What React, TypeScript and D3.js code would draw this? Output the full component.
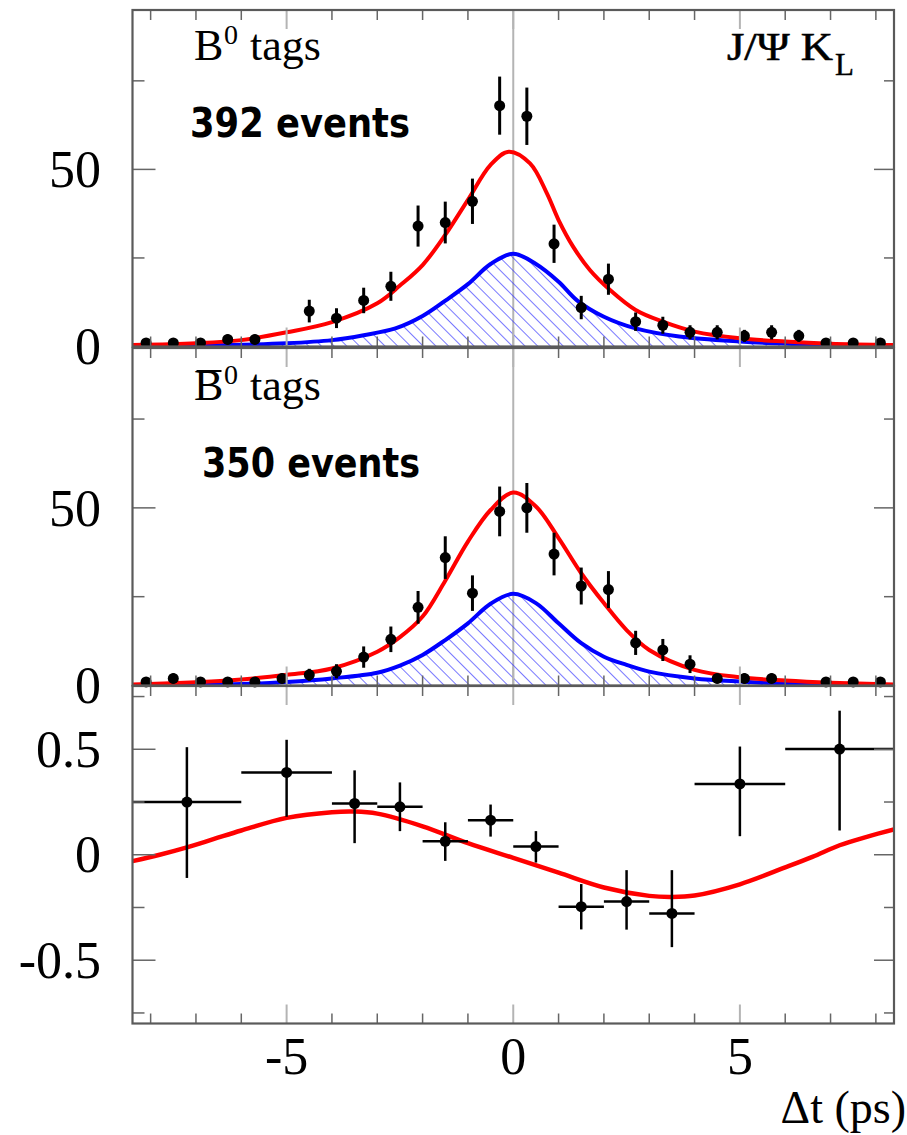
import React from 'react';
import * as d3 from 'd3';

// ---------- data ----------
const BIN_CENTERS = [-8.1, -7.5, -6.9, -6.3, -5.7, -5.1, -4.5, -3.9, -3.3, -2.7, -2.1, -1.5, -0.9, -0.3, 0.3, 0.9, 1.5, 2.1, 2.7, 3.3, 3.9, 4.5, 5.1, 5.7, 6.3, 6.9, 7.5, 8.1];

const B0_COUNTS = [1, 1, 1, 2, 2, 0, 10, 8, 13, 17, 34, 35, 41, 68, 65, 29, 11, 19, 7, 6, 4, 4, 3, 4, 3, 1, 1, 1];
const B0_ERRORS = [1, 1, 1, 1.4, 1.4, 0, 3.2, 2.8, 3.6, 4.1, 5.8, 5.9, 6.4, 8.2, 8.1, 5.4, 3.3, 4.4, 2.6, 2.4, 2, 2, 1.7, 2, 1.7, 1, 1, 1];

const B0BAR_COUNTS = [1, 2, 1, 1, 1, 2, 3, 4, 8, 13, 22, 36, 26, 49, 50, 37, 28, 27, 12, 10, 6, 2, 2, 2, 0, 1, 1, 1];
const B0BAR_ERRORS = [1, 1.4, 1, 1, 1, 1.4, 1.7, 2, 3, 3.6, 4.6, 6, 5, 7, 7, 6, 5.2, 5.2, 3.4, 3.1, 2.5, 1.4, 1.4, 1.4, 0, 1, 1, 1];

// fit curves (x in ps, y in events)
const B0_TOTAL_X = [-8.4, -7, -6, -5, -4, -3, -2.5, -2, -1.5, -1, -0.5, -0.1, 0.37, 0.74, 1.0, 1.32, 1.69, 2.13, 2.7, 3.3, 4, 5, 6, 7, 8.4];
const B0_TOTAL_Y = [0.4, 0.9, 1.8, 4.0, 6.9, 12.2, 17.2, 23.0, 31.5, 41.4, 51.3, 55, 51.7, 43.3, 35.7, 28.2, 21.6, 16, 10.3, 7, 4.2, 2.3, 1.4, 0.8, 0.4];

const B0_SIGNAL_X = [-8.4, -6.25, -5, -4, -3.3, -2.6, -2, -1.48, -1, -0.5, 0, 0.5, 1.0, 1.42, 2.0, 2.7, 3.66, 5, 6.4, 8.4];
const B0_SIGNAL_Y = [0.1, 0.4, 0.9, 1.8, 3.2, 5.1, 8.6, 13.1, 17.6, 23.3, 26.2, 23.3, 18.3, 12.9, 8.4, 5.1, 2.8, 1.4, 0.6, 0.1];

const B0BAR_TOTAL_X = [-8.4, -6.3, -5, -4, -3, -2.5, -2, -1.5, -1, -0.5, 0, 0.5, 1, 1.5, 2, 2.5, 3, 4, 5, 6, 7, 8.4];
const B0BAR_TOTAL_Y = [0.3, 1.4, 3, 4.8, 9.5, 13.6, 19.4, 29.5, 40.5, 49.4, 54.3, 50.4, 41.5, 31.6, 23.2, 15.6, 10, 4.4, 2.3, 1.4, 0.8, 0.3];

const B0BAR_SIGNAL_X = [-8.4, -6, -5, -4, -3, -2.5, -2, -1.5, -1, -0.5, 0, 0.5, 1, 1.5, 2, 2.5, 3, 4, 5, 6, 8.4];
const B0BAR_SIGNAL_Y = [0.1, 0.4, 1, 2, 3.6, 5.6, 8.6, 12.8, 17.5, 23, 25.8, 23.2, 17.5, 11.9, 8.1, 5.8, 3.9, 2, 1.1, 0.5, 0.1];

// asymmetry panel
const ASYM_X = [-7.2, -5, -3.5, -2.5, -1.5, -0.5, 0.5, 1.5, 2.5, 3.5, 5, 7.2];
const ASYM_XLO = [-8.4, -6, -4, -3, -2, -1, 0, 1, 2, 3, 4, 6];
const ASYM_XHI = [-6, -4, -3, -2, -1, 0, 1, 2, 3, 4, 6, 8.4];
const ASYM_Y = [0.25, 0.39, 0.243, 0.227, 0.064, 0.164, 0.039, -0.246, -0.222, -0.278, 0.336, 0.501];
const ASYM_EUP = [0.26, 0.155, 0.157, 0.116, 0.09, 0.074, 0.073, 0.107, 0.149, 0.205, 0.177, 0.182];
const ASYM_EDN = [0.36, 0.21, 0.188, 0.115, 0.093, 0.078, 0.076, 0.108, 0.133, 0.16, 0.248, 0.386];

const ASYM_FIT_X = [-8.4, -7.8, -7.2, -6.6, -6, -5, -4, -3.5, -3, -2, -1, 0, 1, 2, 3, 3.5, 4, 5, 6, 6.6, 7.2, 7.8, 8.4];
const ASYM_FIT_Y = [-0.03, 0.0, 0.035, 0.075, 0.115, 0.175, 0.202, 0.205, 0.195, 0.135, 0.055, -0.015, -0.085, -0.155, -0.195, -0.2, -0.193, -0.14, -0.06, -0.01, 0.045, 0.085, 0.12];

const X_TICK_LABELS = [-5, 0, 5];
const COUNT_TICK_LABELS = [0, 50];
const ASYM_TICK_LABELS = [-0.5, 0, 0.5];

// ---------- layout ----------
const W = 907;
const H = 1135;
const X0 = 132.5;
const X1 = 894;
const x = d3.scaleLinear().domain([-8.4, 8.4]).range([X0, X1]);
const yTop = d3.scaleLinear().domain([0, 95]).range([346.5, 10]);
const yMid = d3.scaleLinear().domain([0, 95]).range([685.5, 348]);
const yBot = d3.scaleLinear().domain([-0.8, 0.8]).range([1023.5, 686]);

const SERIF = "'Liberation Serif', 'Times New Roman', serif";
const FRAME = '#5a5a5a';
const TICK = '#666';
const LIGHT = '#b4b4b4';
const RED = '#ff0000';
const BLUE = '#0000ff';

const intTicks = d3.range(-8, 9);
const smooth = d3.curveCatmullRom.alpha(0.5);

function xy(xs: number[], ys: number[]) {
  return xs.map((v, i) => [v, ys[i]] as [number, number]);
}

function Frame({ y, ticks, minor, id }: { y: d3.ScaleLinear<number, number>; ticks: number[]; minor: number[]; id: string }) {
  const [yb, yt] = y.range();
  return (
    <g>
      {intTicks.map((t) => {
        const major = t % 5 === 0;
        const len = major ? 19 : 10;
        return (
          <g key={id + 'xt' + t} stroke={major ? LIGHT : TICK} strokeWidth={major ? 2 : 1.5}>
            <line x1={x(t)} x2={x(t)} y1={yt} y2={yt + len} />
            <line x1={x(t)} x2={x(t)} y1={yb} y2={yb - len} />
          </g>
        );
      })}
      {ticks.map((t) => (
        <g key={id + 'yM' + t} stroke={TICK} strokeWidth={1.5}>
          <line x1={X0} x2={X0 + 23} y1={y(t)} y2={y(t)} />
          <line x1={X1} x2={X1 - 20} y1={y(t)} y2={y(t)} />
        </g>
      ))}
      {minor.map((t) => (
        <g key={id + 'ym' + t} stroke={TICK} strokeWidth={1.5}>
          <line x1={X0} x2={X0 + 12} y1={y(t)} y2={y(t)} />
          <line x1={X1} x2={X1 - 10} y1={y(t)} y2={y(t)} />
        </g>
      ))}
      <rect x={X0} y={yt} width={X1 - X0} height={yb - yt} fill="none" stroke={FRAME} strokeWidth={2.2} />
    </g>
  );
}

function CountPanel({
  y, counts, errors, totX, totY, sigX, sigY, id,
}: {
  y: d3.ScaleLinear<number, number>; counts: number[]; errors: number[];
  totX: number[]; totY: number[]; sigX: number[]; sigY: number[]; id: string;
}) {
  const [yb, yt] = y.range();
  const line = d3.line<[number, number]>().x((d) => x(d[0])).y((d) => y(d[1])).curve(smooth);
  const area = d3.area<[number, number]>().x((d) => x(d[0])).y0(y(0)).y1((d) => y(d[1])).curve(smooth);
  const sig = xy(sigX, sigY);
  const tot = xy(totX, totY);
  return (
    <g>
      <defs>
        <clipPath id={'clip' + id}>
          <rect x={X0} y={yt} width={X1 - X0} height={yb - yt} />
        </clipPath>
      </defs>
      <line x1={x(0)} x2={x(0)} y1={yt} y2={yb} stroke={LIGHT} strokeWidth={2} />
      <g clipPath={`url(#clip${id})`}>
        <path d={area(sig) || ''} fill="url(#hatch)" stroke="none" />
        <path d={line(sig) || ''} fill="none" stroke={BLUE} strokeWidth={4} />
        <path d={line(tot) || ''} fill="none" stroke={RED} strokeWidth={4} />
      </g>
      {BIN_CENTERS.map((c, i) =>
        counts[i] > 0 ? (
          <g key={id + 'p' + i}>
            <line x1={x(c)} x2={x(c)} y1={y(counts[i] + errors[i])} y2={y(Math.max(0, counts[i] - errors[i]))} stroke="#000" strokeWidth={3} />
            <circle cx={x(c)} cy={y(counts[i])} r={5.5} fill="#000" />
          </g>
        ) : null,
      )}
      <Frame y={y} ticks={[50]} minor={[25, 75]} id={id} />
      {COUNT_TICK_LABELS.map((t) => (
        <text key={id + 'l' + t} x={101} y={y(t)} dy="0.34em" textAnchor="end" fontFamily={SERIF} fontSize={52} fill="#000">
          {t}
        </text>
      ))}
    </g>
  );
}

export default function App() {
  const fit = d3.line<[number, number]>().x((d) => x(d[0])).y((d) => yBot(d[1])).curve(smooth);
  const [bb, bt] = yBot.range();
  return (
    <svg width={W} height={H} viewBox={`0 0 ${W} ${H}`} style={{ position: 'absolute', left: 0, top: 0, background: '#fff' }}>
      <defs>
        <pattern id="hatch" patternUnits="userSpaceOnUse" width={9} height={9} patternTransform="rotate(-45)">
          <line x1={0} y1={-1} x2={0} y2={10} stroke="#2f2fff" strokeWidth={1.3} />
        </pattern>
        <clipPath id="clipBot">
          <rect x={X0} y={bt} width={X1 - X0} height={bb - bt} />
        </clipPath>
      </defs>
      <rect x={0} y={0} width={W} height={H} fill="#fff" />

      <CountPanel y={yTop} counts={B0_COUNTS} errors={B0_ERRORS} totX={B0_TOTAL_X} totY={B0_TOTAL_Y} sigX={B0_SIGNAL_X} sigY={B0_SIGNAL_Y} id="top" />
      <CountPanel y={yMid} counts={B0BAR_COUNTS} errors={B0BAR_ERRORS} totX={B0BAR_TOTAL_X} totY={B0BAR_TOTAL_Y} sigX={B0BAR_SIGNAL_X} sigY={B0BAR_SIGNAL_Y} id="mid" />

      {/* asymmetry panel */}
      <g>
        <g clipPath="url(#clipBot)">
          <path d={fit(xy(ASYM_FIT_X, ASYM_FIT_Y)) || ''} fill="none" stroke={RED} strokeWidth={4.5} />
        </g>
        {ASYM_X.map((c, i) => (
          <g key={'a' + i} stroke="#000" strokeWidth={2.5}>
            <line x1={x(ASYM_XLO[i])} x2={x(ASYM_XHI[i])} y1={yBot(ASYM_Y[i])} y2={yBot(ASYM_Y[i])} />
            <line x1={x(c)} x2={x(c)} y1={yBot(ASYM_Y[i] + ASYM_EUP[i])} y2={yBot(ASYM_Y[i] - ASYM_EDN[i])} />
            <circle cx={x(c)} cy={yBot(ASYM_Y[i])} r={5.5} fill="#000" stroke="none" />
          </g>
        ))}
        <Frame y={yBot} ticks={[-0.5, 0, 0.5]} minor={[-0.75, -0.25, 0.25, 0.75]} id="bot" />
        {ASYM_TICK_LABELS.map((t) => (
          <text key={'al' + t} x={101} y={yBot(t)} dy="0.34em" textAnchor="end" fontFamily={SERIF} fontSize={52} fill="#000">
            {t}
          </text>
        ))}
      </g>

      {/* x axis labels */}
      {X_TICK_LABELS.map((t) => (
        <text key={'xl' + t} x={x(t)} y={1074} textAnchor="middle" fontFamily={SERIF} fontSize={52} fill="#000">
          {t}
        </text>
      ))}
      <text x={906} y={1123} textAnchor="end" fontFamily={SERIF} fontSize={46} fill="#000">
        Δt (ps)
      </text>

      {/* annotations top */}
      <text x={194} y={60} fontFamily={SERIF} fontSize={44} fill="#000">B</text>
      <text x={224} y={44} fontFamily={SERIF} fontSize={28} fill="#000">0</text>
      <text x={250} y={60} fontFamily={SERIF} fontSize={44} fill="#000">tags</text>
      <text x={190} y={137} fontFamily="'DejaVu Sans', Verdana, sans-serif" fontWeight="bold" fontSize={40} textLength={220} lengthAdjust="spacingAndGlyphs" fill="#000">
        392 events
      </text>
      <text x={727} y={60} fontFamily={SERIF} fontSize={39} textLength={106} lengthAdjust="spacingAndGlyphs" fill="#000" stroke="#000" strokeWidth={0.6}>
        J/Ψ K
      </text>
      <text x={835} y={75} fontFamily={SERIF} fontSize={31} fill="#000" stroke="#000" strokeWidth={0.4}>L</text>

      {/* annotations middle */}
      <line x1={196.5} x2={221.5} y1={371} y2={371} stroke="#000" strokeWidth={2} />
      <text x={194} y={399.5} fontFamily={SERIF} fontSize={44} fill="#000">B</text>
      <text x={224} y={383.5} fontFamily={SERIF} fontSize={28} fill="#000">0</text>
      <text x={250} y={399.5} fontFamily={SERIF} fontSize={44} fill="#000">tags</text>
      <text x={202} y={477} fontFamily="'DejaVu Sans', Verdana, sans-serif" fontWeight="bold" fontSize={40} textLength={218} lengthAdjust="spacingAndGlyphs" fill="#000">
        350 events
      </text>
    </svg>
  );
}
